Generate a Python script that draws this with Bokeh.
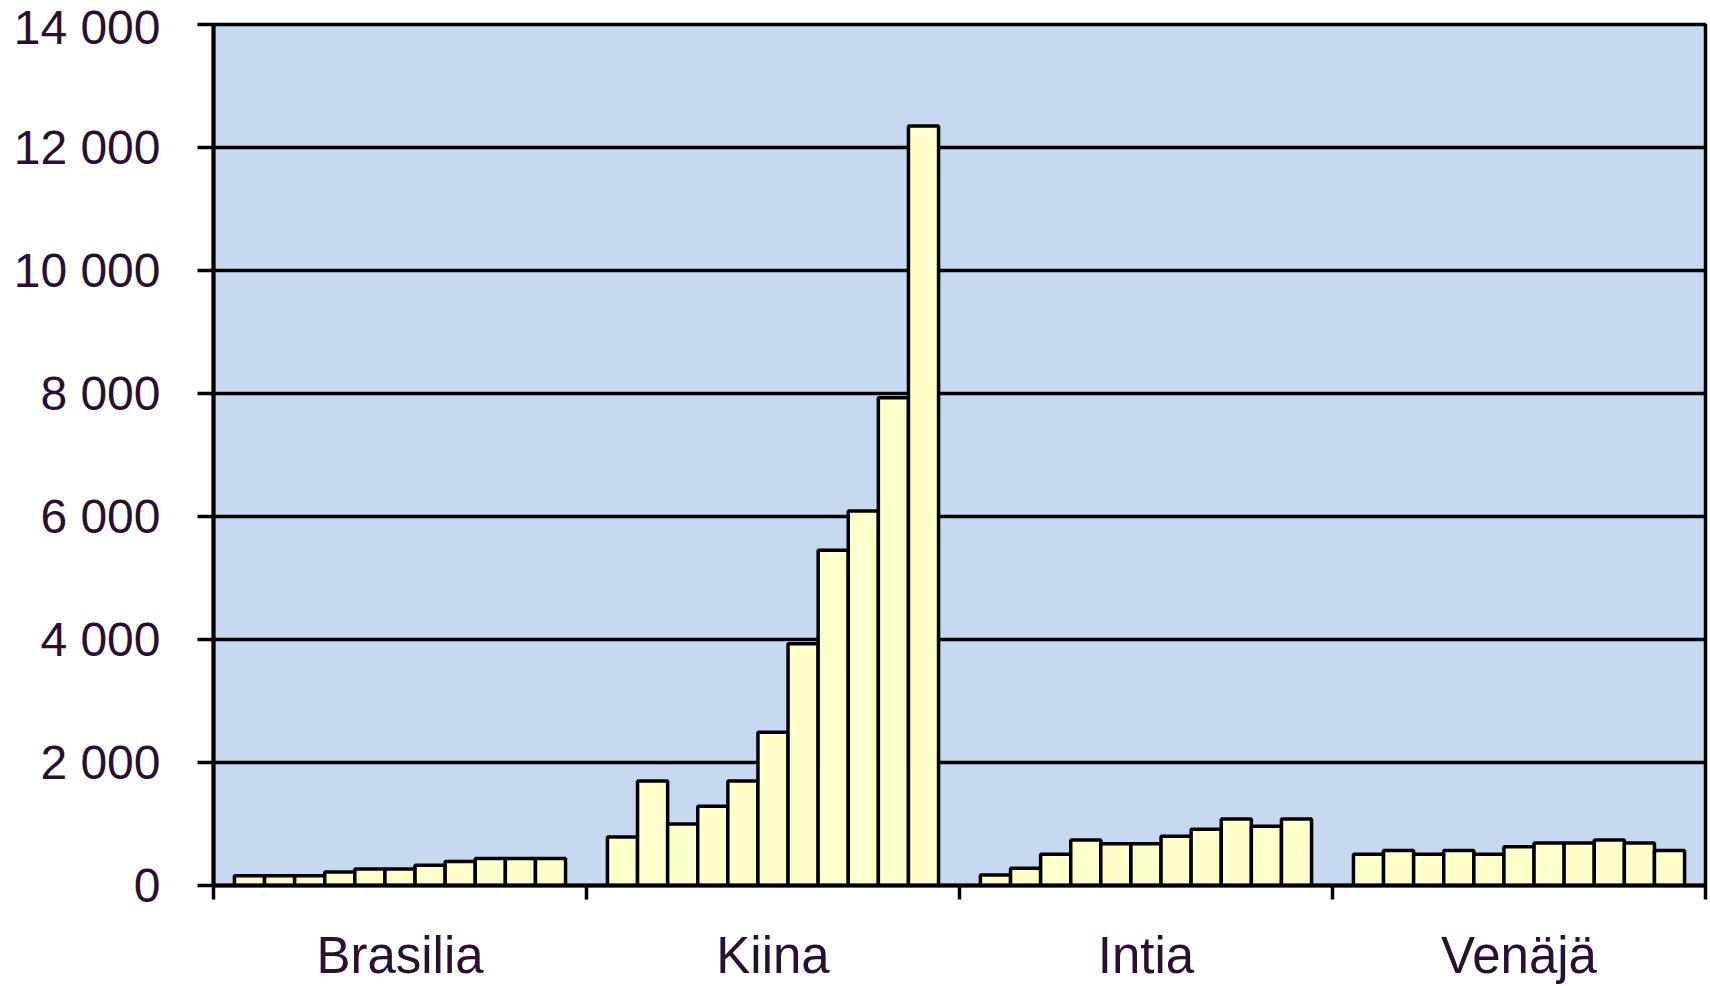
from bokeh.plotting import figure
from bokeh.models import FixedTicker, ColumnDataSource, Range1d
from bokeh.embed import file_html
from bokeh.resources import INLINE

countries = ["Brasilia", "Kiina", "Intia", "Venäjä"]
brasilia = [160, 160, 160, 220, 270, 270, 330, 390, 440, 440, 440]
kiina = [790, 1700, 1000, 1290, 1700, 2490, 3930, 5450, 6090, 7930, 12350]
intia = [170, 280, 510, 740, 680, 680, 800, 915, 1080, 965, 1080]
venaja = [510, 570, 510, 570, 510, 630, 690, 690, 740, 690, 570]
y_ticks = [0, 2000, 4000, 6000, 8000, 10000, 12000, 14000]
y_tick_labels = ["0", "2 000", "4 000", "6 000", "8 000", "10 000", "12 000", "14 000"]

series = [brasilia, kiina, intia, venaja]
bar_w = 0.0807
xs, tops = [], []
for i, vals in enumerate(series):
    n = len(vals)
    for j, v in enumerate(vals):
        xs.append(i + 0.5 + (j - (n - 1) / 2) * bar_w)
        tops.append(v)
src = ColumnDataSource(dict(x=xs, top=tops))

p = figure(width=1708, height=986, x_range=Range1d(0, len(countries)), y_range=Range1d(0, 14000),
           output_backend="svg", toolbar_location=None,
           min_border_left=213, min_border_right=3, min_border_top=24, min_border_bottom=99)
p.border_fill_color = "white"
p.background_fill_color = "#C6D9F0"
p.outline_line_color = "black"
p.outline_line_width = 3.5

p.vbar(x="x", top="top", bottom=0, width=bar_w, source=src,
       fill_color="#FFFFCC", line_color="black", line_width=3.5)

label_color = "#2A0F33"
font = "Liberation Sans"

# y axis
p.yaxis.ticker = FixedTicker(ticks=y_ticks)
p.yaxis.major_label_overrides = {t: l for t, l in zip(y_ticks, y_tick_labels)}
p.yaxis.major_tick_out = 16
p.yaxis.major_tick_in = 0
p.yaxis.minor_tick_out = 0
p.yaxis.minor_tick_in = 0
p.yaxis.major_tick_line_width = 3.5
p.yaxis.axis_line_width = 4
p.yaxis.major_label_text_font = font
p.yaxis.major_label_text_font_size = "48px"
p.yaxis.major_label_text_color = label_color
p.yaxis.major_label_standoff = 37

# x axis
centers = [i + 0.5 for i in range(len(countries))]
p.xaxis.ticker = FixedTicker(ticks=centers, minor_ticks=list(range(len(countries) + 1)))
p.xaxis.major_label_overrides = {c: n for c, n in zip(centers, countries)}
p.xaxis.major_tick_out = 0
p.xaxis.major_tick_in = 0
p.xaxis.minor_tick_out = 14
p.xaxis.minor_tick_in = 0
p.xaxis.minor_tick_line_width = 3.5
p.xaxis.axis_line_width = 4
p.xaxis.major_label_text_font = font
p.xaxis.major_label_text_font_size = "51px"
p.xaxis.major_label_text_color = label_color
p.xaxis.major_label_standoff = 27

p.xgrid.grid_line_color = None
p.ygrid.ticker = FixedTicker(ticks=y_ticks)
p.ygrid.grid_line_color = "black"
p.ygrid.grid_line_width = 3.5

open("out.html", "w").write(file_html(p, INLINE))
